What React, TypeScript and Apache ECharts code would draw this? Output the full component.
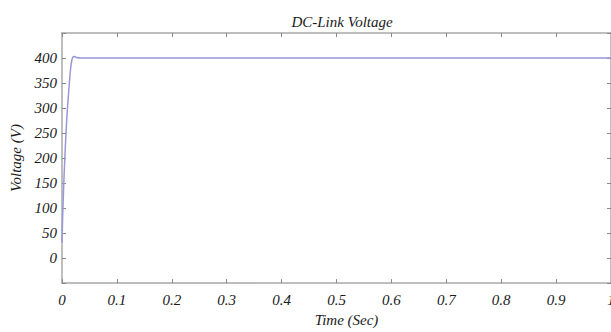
import React, { useEffect, useRef } from "react";
import * as echarts from "echarts";

const timeSec = [0, 0.001, 0.002, 0.004, 0.006, 0.008, 0.01, 0.012, 0.014, 0.016, 0.018, 0.02, 0.023, 0.027, 0.035, 1.0];
const voltage = [30, 75, 110, 170, 220, 265, 300, 330, 358, 382, 396, 402, 403, 401, 400, 400];
const yTickValues = [0, 50, 100, 150, 200, 250, 300, 350, 400];

const FONT = "'Liberation Serif', 'DejaVu Serif', serif";

export default function App() {
  const ref = useRef<HTMLDivElement>(null);
  useEffect(() => {
    if (!ref.current) return;
    const chart = echarts.init(ref.current, null, { renderer: "svg" });
    const axisLine = { show: true, onZero: false, lineStyle: { color: "#a8a8a8", width: 1.5 } };
    const labelStyle = { fontFamily: FONT, fontStyle: "italic", fontSize: 15, color: "#1a1a1a" };
    chart.setOption({
      animation: false,
      backgroundColor: "#ffffff",
      title: {
        text: "DC-Link Voltage",
        left: 337,
        textAlign: "center",
        top: 9,
        textStyle: { fontFamily: FONT, fontStyle: "italic", fontWeight: "normal", fontSize: 15, color: "#1a1a1a" },
      },
      grid: { left: 62, top: 33, width: 549, height: 260, containLabel: false },
      xAxis: [
        {
          type: "value",
          min: 0,
          max: 1,
          interval: 0.1,
          position: "bottom",
          name: "Time (Sec)",
          nameLocation: "middle",
          nameGap: 28,
          nameTextStyle: { ...labelStyle, fontSize: 15, padding: [0, 0, 0, 20] },
          axisLine,
          axisTick: { show: true, inside: true, length: 4, lineStyle: { color: "#888" } },
          axisLabel: { ...labelStyle, margin: 9, formatter: (v: number) => (v === 0 ? "0" : v === 1 ? "1" : String(+v.toFixed(1))) },
          splitLine: { show: false },
        },
        {
          type: "value",
          min: 0,
          max: 1,
          interval: 0.1,
          position: "top",
          axisLine,
          axisTick: { show: true, inside: true, length: 4, lineStyle: { color: "#888" } },
          axisLabel: { show: false },
          splitLine: { show: false },
        },
      ],
      yAxis: [
        {
          type: "value",
          min: -50,
          max: 450,
          interval: 50,
          position: "left",
          name: "Voltage (V)",
          nameLocation: "middle",
          nameGap: 38,
          nameTextStyle: { ...labelStyle, fontSize: 15 },
          axisLine,
          axisTick: { show: true, inside: true, length: 4, lineStyle: { color: "#888" } },
          axisLabel: {
            ...labelStyle,
            margin: 5,
            formatter: (v: number) => (yTickValues.includes(v) ? String(v) : ""),
          },
          splitLine: { show: false },
        },
        {
          type: "value",
          min: -50,
          max: 450,
          interval: 50,
          position: "right",
          axisLine,
          axisTick: { show: true, inside: true, length: 4, lineStyle: { color: "#888" } },
          axisLabel: { show: false },
          splitLine: { show: false },
        },
      ],
      series: [
        {
          type: "line",
          xAxisIndex: 0,
          yAxisIndex: 0,
          data: timeSec.map((t, i) => [t, voltage[i]]),
          showSymbol: false,
          smooth: 0.3,
          lineStyle: { color: "#9898d8", width: 1.5 },
        },
      ],
    });
    return () => chart.dispose();
  }, []);
  return (
    <div style={{ position: "fixed", left: 0, top: 0, width: 611, height: 332, overflow: "hidden", background: "#fff" }}>
      <div ref={ref} style={{ width: 660, height: 332 }} />
    </div>
  );
}
